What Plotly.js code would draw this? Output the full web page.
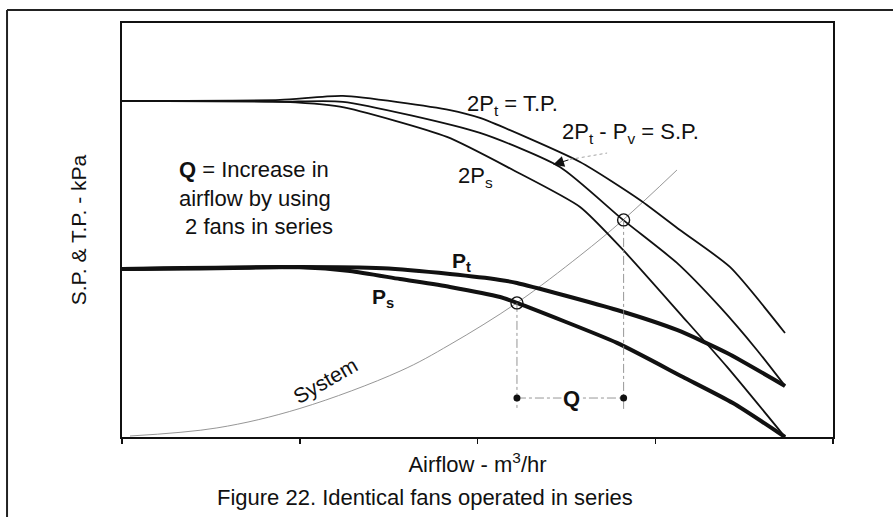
<!DOCTYPE html>
<html><head><meta charset="utf-8">
<script src="https://cdn.plot.ly/plotly-3.0.1.min.js"></script>
<style>html,body{margin:0;padding:0;background:#fff}</style>
</head><body>
<div id="chart" style="width:893px;height:517px"></div>
<script>
// Airflow (relative units, 1 per major tick) and pressure (relative units, single-fan shutoff = 1)
const ptX  = [0, 0.439, 1.001, 1.468, 1.845, 2.127, 2.222, 2.785, 3.122, 3.404, 3.730];
const ptY  = [1.000, 1.003, 1.012, 1.004, 0.970, 0.935, 0.917, 0.756, 0.637, 0.500, 0.304];
const psX  = [0, 1.001, 1.283, 1.564, 1.845, 2.127, 2.222, 2.785, 3.156, 3.437, 3.730];
const psY  = [1.000, 1.010, 0.988, 0.940, 0.893, 0.833, 0.798, 0.560, 0.357, 0.202, 0.000];
const tp2X = [0, 0.889, 1.243, 1.845, 2.014, 2.577, 2.914, 3.139, 3.420, 3.730];
const tp2Y = [2.000, 2.006, 2.030, 1.946, 1.899, 1.637, 1.411, 1.232, 1.012, 0.619];
const spX  = [0, 0.889, 1.243, 2.014, 2.464, 2.819, 3.122, 3.364, 3.572, 3.730];
const spY  = [2.000, 1.995, 1.995, 1.810, 1.607, 1.292, 1.036, 0.774, 0.518, 0.304];
const ps2X = [0, 0.850, 1.226, 1.828, 2.200, 2.577, 2.819, 3.156, 3.404, 3.730];
const ps2Y = [2.000, 1.997, 1.966, 1.786, 1.589, 1.369, 1.113, 0.714, 0.417, 0.000];
const sysX = [0.045, 0.534, 1.001, 1.564, 1.845, 2.221, 2.577, 2.819, 3.122];
const sysY = [0.006, 0.054, 0.170, 0.392, 0.550, 0.798, 1.080, 1.292, 1.589];
const opX  = [2.222, 2.822];
const opY  = [0.798, 1.292];
const qY   = 0.232;
const dropY = 0.16;
const xTicks = [0, 1, 2, 3, 4];

const F = "Liberation Sans, Arial, sans-serif";
const thin = {color:'#111', width:1.8};
const thick = {color:'#111', width:4};

const traces = [
  {x:sysX, y:sysY, mode:'lines', line:{color:'#8a8a8a', width:0.9, shape:'spline'}},
  {x:tp2X, y:tp2Y, mode:'lines', line:Object.assign({shape:'spline', smoothing:0.6}, thin)},
  {x:spX,  y:spY,  mode:'lines', line:Object.assign({shape:'spline', smoothing:0.6}, thin)},
  {x:ps2X, y:ps2Y, mode:'lines', line:Object.assign({shape:'spline', smoothing:0.6}, thin)},
  {x:ptX,  y:ptY,  mode:'lines', line:Object.assign({shape:'spline', smoothing:0.6}, thick)},
  {x:psX,  y:psY,  mode:'lines', line:Object.assign({shape:'spline', smoothing:0.6}, thick)},
  // drop lines from operating points
  {x:[opX[0], opX[0]], y:[opY[0], dropY], mode:'lines', line:{color:'#8a8a8a', width:0.9, dash:'dashdot'}},
  {x:[opX[1], opX[1]], y:[opY[1], dropY], mode:'lines', line:{color:'#8a8a8a', width:0.9, dash:'dashdot'}},
  // Q dimension line
  {x:[opX[0], opX[1]], y:[qY, qY], mode:'lines', line:{color:'#8a8a8a', width:0.9, dash:'dashdot'}},
  {x:opX, y:[qY, qY], mode:'markers', marker:{color:'#111', size:7}},
  {x:opX, y:opY, mode:'markers', marker:{symbol:'circle-open', color:'#111', size:12, line:{width:1.4, color:'#111'}}}
];

const ann = (x, y, text, opts) => Object.assign({x, y, xref:'x', yref:'y', text, showarrow:false,
  font:{family:F, size:22, color:'#111'}, xanchor:'left', yanchor:'middle'}, opts||{});

const layout = {
  width:893, height:517,
  margin:{l:122, r:60, t:23, b:80, pad:0},
  paper_bgcolor:'#fff', plot_bgcolor:'#fff',
  showlegend:false,
  font:{family:F, color:'#111'},
  xaxis:{range:[0,4], showgrid:false, zeroline:false, showline:true, mirror:true, linecolor:'#111', linewidth:2,
         tickvals:xTicks, ticks:'outside', ticklen:5, tickwidth:1.5, tickcolor:'#111', showticklabels:false,
         title:{text:'Airflow - m<sup>3</sup>/hr', font:{family:F, size:22, color:'#111'}, standoff:14}},
  yaxis:{range:[0,2.464], showgrid:false, zeroline:false, showline:true, mirror:true, linecolor:'#111', linewidth:2,
         ticks:'', showticklabels:false,
         title:{text:'S.P. &amp; T.P. - kPa', font:{family:F, size:21, color:'#111'}, standoff:28}},
  annotations:[
    ann(1.930, 1.976, '2P<sub>t</sub> = T.P.'),
    ann(2.464, 1.808, '2P<sub>t</sub> - P<sub>v</sub> = S.P.'),
    ann(1.880, 1.545, '2P<sub>s</sub>'),
    ann(1.845, 1.042, '<b>P<sub>t</sub></b>', {font:{family:F, size:21, color:'#111'}}),
    ann(1.395, 0.827, '<b>P<sub>s</sub></b>', {font:{family:F, size:21, color:'#111'}}),
    ann(1.142, 0.339, 'System', {xanchor:'center', textangle:-30, font:{family:F, size:21, color:'#111'}}),
    ann(2.526, qY, '<b>Q</b>', {xanchor:'center', bgcolor:'#fff', font:{family:F, size:22, color:'#111'}}),
    ann(0.309, 1.423, '<b>Q</b> = Increase in<br>airflow by using<br>\u00a02 fans in series', {align:'left'}),
    {x:2.425, y:1.62, ax:2.52, ay:1.652, xref:'x', yref:'y', axref:'x', ayref:'y', text:'', showarrow:true,
     arrowhead:2, arrowsize:2.2, arrowwidth:1, arrowcolor:'#111'},
    {x:0.5, y:-0.145, xref:'paper', yref:'paper', text:'Figure 22. Identical fans operated in series', showarrow:false,
     font:{family:F, size:22, color:'#111'}, xanchor:'center', yanchor:'middle', xshift:-53}
  ],
  shapes:[
    {type:'line', xref:'x', yref:'y', x0:2.52, y0:1.652, x1:2.729, y1:1.690, line:{color:'#9a9a9a', width:0.9, dash:'dot'}},
    {type:'line', xref:'paper', yref:'paper', x0:-0.1617, y0:1.0314, x1:1.12, y1:1.0314, line:{color:'#222', width:2}},
    {type:'line', xref:'paper', yref:'paper', x0:-0.1617, y0:1.0314, x1:-0.1617, y1:-0.25, line:{color:'#222', width:2}}
  ]
};

Plotly.newPlot('chart', traces, layout, {staticPlot:true, displayModeBar:false});
</script>
</body></html>
